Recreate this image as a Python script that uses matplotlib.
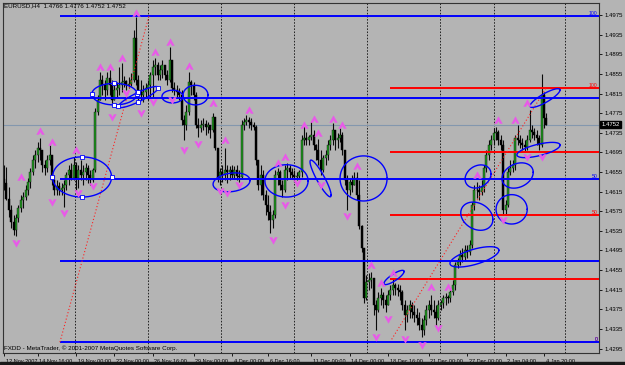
import numpy as np
import matplotlib
matplotlib.use("Agg")
import matplotlib.pyplot as plt
from matplotlib import font_manager, transforms
from matplotlib.path import Path
from matplotlib.patches import Rectangle

# EURUSD H4 candles, prices in pips above 1.4000 (open = previous close)
BASE = 1.4
PIP = 0.0001
first_open = 640
highs = [669, 665, 625, 588, 567, 569, 588, 608, 614, 629, 643, 663, 690, 700, 716, 724, 700, 679, 690, 710,
         684, 649, 639, 635, 633, 639, 655, 669, 673, 686, 675, 669, 679, 669, 673, 669, 659, 663, 786, 812,
         859, 853, 843, 859, 863, 843, 833, 839, 870, 878, 850, 843, 848, 858, 945, 971, 853, 843, 833, 837,
         843, 859, 884, 888, 880, 873, 884, 873, 863, 910, 880, 839, 833, 826, 822, 771, 792, 859, 843, 839,
         818, 765, 761, 765, 761, 757, 751, 775, 767, 704, 663, 669, 704, 669, 667, 669, 667, 669, 659, 761,
         765, 771, 767, 765, 757, 751, 679, 669, 659, 618, 608, 588, 577, 659, 663, 659, 639, 669, 673, 669,
         663, 659, 655, 659, 730, 747, 737, 730, 757, 740, 712, 722, 700, 690, 700, 720, 730, 755, 730, 734,
         745, 737, 700, 649, 643, 649, 655, 655, 639, 547, 500, 445, 449, 451, 438, 394, 410, 418, 410, 404,
         414, 424, 438, 428, 426, 424, 414, 394, 384, 394, 390, 384, 377, 369, 357, 363, 384, 394, 404, 394,
         384, 394, 394, 404, 408, 404, 414, 434, 471, 479, 496, 500, 506, 506, 516, 594, 629, 635, 629, 639,
         669, 700, 720, 730, 745, 747, 740, 730, 720, 598, 663, 679, 679, 730, 751, 730, 724, 720, 730, 781,
         751, 745, 740, 730, 855, 818, 776]
lows = [618, 598, 563, 541, 527, 525, 553, 574, 582, 598, 608, 622, 649, 663, 675, 679, 655, 649, 655, 669,
        629, 608, 608, 608, 608, 584, 618, 629, 639, 639, 618, 622, 639, 629, 639, 633, 629, 635, 655, 771,
        802, 812, 802, 812, 812, 792, 802, 806, 812, 818, 828, 822, 826, 830, 839, 833, 802, 802, 798, 806,
        802, 806, 808, 853, 843, 843, 847, 843, 833, 839, 818, 812, 806, 802, 751, 720, 740, 771, 812, 802,
        745, 726, 737, 740, 730, 734, 724, 737, 700, 635, 629, 635, 639, 633, 639, 643, 643, 639, 635, 643,
        740, 751, 745, 740, 740, 669, 618, 608, 598, 567, 557, 530, 541, 561, 629, 618, 604, 614, 639, 643,
        643, 635, 639, 643, 645, 710, 710, 710, 720, 700, 679, 669, 649, 655, 669, 679, 700, 710, 700, 704,
        716, 690, 629, 577, 608, 614, 629, 598, 539, 492, 388, 394, 414, 418, 363, 332, 369, 384, 377, 369,
        384, 394, 404, 404, 402, 394, 373, 332, 349, 357, 357, 349, 343, 332, 318, 322, 343, 357, 363, 357,
        343, 353, 373, 378, 384, 388, 390, 404, 414, 459, 465, 471, 475, 479, 486, 500, 577, 602, 598, 608,
        614, 655, 679, 700, 710, 720, 710, 700, 567, 567, 584, 649, 655, 659, 710, 704, 700, 696, 700, 716,
        724, 720, 710, 700, 706, 745, 752]
closes = [633, 600, 577, 553, 537, 561, 582, 598, 604, 618, 635, 655, 679, 690, 704, 700, 669, 663, 679, 690,
          639, 618, 627, 618, 622, 629, 649, 659, 643, 669, 643, 659, 649, 655, 663, 649, 639, 659, 777, 802,
          843, 833, 822, 847, 833, 802, 822, 826, 833, 839, 840, 833, 835, 843, 929, 843, 822, 812, 818, 826,
          833, 853, 869, 873, 853, 863, 873, 853, 843, 884, 826, 822, 818, 812, 761, 751, 777, 839, 833, 812,
          751, 745, 751, 753, 747, 751, 740, 767, 704, 643, 655, 649, 659, 655, 659, 649, 659, 647, 645, 751,
          757, 761, 757, 751, 747, 679, 629, 649, 608, 588, 574, 557, 567, 649, 655, 629, 618, 659, 663, 655,
          649, 645, 647, 655, 720, 724, 720, 726, 730, 710, 700, 679, 659, 684, 690, 710, 720, 740, 720, 724,
          730, 700, 639, 618, 635, 629, 643, 608, 545, 500, 398, 430, 434, 438, 384, 373, 398, 404, 394, 384,
          404, 414, 424, 418, 414, 410, 384, 363, 373, 384, 369, 363, 357, 343, 332, 353, 373, 384, 373, 369,
          357, 384, 388, 398, 400, 398, 410, 424, 465, 471, 486, 482, 496, 492, 506, 588, 618, 618, 614, 625,
          663, 690, 710, 720, 734, 737, 720, 710, 577, 588, 655, 663, 669, 724, 720, 714, 710, 706, 720, 740,
          737, 730, 724, 710, 812, 766, 752]

# Bill Williams fractals (bar, pips)
up_frac_bars = [7, 15, 20, 30, 40, 44, 49, 55, 63, 69, 77, 87, 92, 102, 114, 117, 125, 129, 131, 137, 141,
                147, 153, 157, 162, 178, 185, 197, 206, 213, 218]
up_frac_pips = [645, 739, 716, 700, 869, 869, 888, 979, 900, 920, 871, 796, 720, 782, 673, 686, 751, 763,
                735, 763, 751, 667, 465, 429, 449, 421, 421, 649, 761, 761, 796]
down_frac_bars = [5, 20, 25, 31, 37, 45, 51, 57, 62, 70, 75, 81, 90, 93, 98, 112, 117, 122, 132, 143, 155,
                  160, 167, 174, 181, 208, 218, 224]
down_frac_pips = [510, 594, 571, 612, 627, 767, 816, 775, 798, 802, 700, 712, 616, 612, 629, 516, 588, 633,
                  629, 565, 319, 355, 314, 302, 337, 557, 686, 686]

# Fibonacci objects: (bar, pips) of both anchors, levels in percent
blue_fib = (23.3, 308, 60.4, 973)
red_fib = (160.8, 308, 225.8, 826)
fib_levels = [0, 25, 50, 75, 100]
fib_texts = {0: "0", 50: "50", 100: "100"}

# ellipses: centre bar, centre pips, half width (bars), half height (pips), tilt (pips per bar)
ellipses = [(32.5, 645, 12.3, 41, 0), (46, 814, 9.4, 22, 0), (56, 808, 8.3, 10, 2.3), (70.2, 809, 4.4, 13, 0),
            (79.8, 812, 5.2, 20, 0), (94.8, 634, 7.7, 19, 0.5), (117.7, 637, 9.0, 33, 0),
            (131.9, 642, 4.4, 16, -7.7), (149.8, 642, 9.8, 46, 0), (162.5, 440, 4.2, 8, 2.9),
            (196, 482, 10.2, 16, 1.3), (197, 565, 6.7, 28, -1), (197.5, 646, 5.4, 23, 1),
            (211.5, 579, 6.5, 30, 0), (214, 648, 6.5, 25, 1), (222.7, 700, 9.0, 12, 1.1),
            (225.4, 806, 6.25, 10, 2.6)]
selected_ellipses = [0, 1, 2]

tick_bars = [0, 14, 30, 46, 62, 79, 95, 110, 128, 144, 160, 177, 193, 209, 225]
tick_labels = ["12 Nov 2007", "14 Nov 16:00", "19 Nov 00:00", "22 Nov 00:00", "26 Nov 16:00",
               "29 Nov 00:00", "4 Dec 00:00", "6 Dec 16:00", "11 Dec 00:00", "14 Dec 00:00",
               "18 Dec 16:00", "21 Dec 00:00", "27 Dec 00:00", "2 Jan 04:00", "4 Jan 20:00"]
price_ticks = [1.4295, 1.4335, 1.4375, 1.4415, 1.4455, 1.4495, 1.4535, 1.4575, 1.4615, 1.4655,
               1.4695, 1.4735, 1.4775, 1.4815, 1.4855, 1.4895, 1.4935, 1.4975]
grid_bars = [29.6, 60, 90.4, 120.8, 151.3, 181.7, 204.2, 233.8]
last_price = 1.4752
header = "EURUSD,H4  1.4766 1.4776 1.4752 1.4752"
footer = "FXDD - MetaTrader, \u00a9 2001-2007 MetaQuotes Software Corp."

BG = "#B4B4B4"
GREEN = "#1E9A1E"
MAGENTA = "#E85AE8"

names = {f.name for f in font_manager.fontManager.ttflist}
small_font = "Liberation Sans Narrow" if "Liberation Sans Narrow" in names else "Liberation Sans"
narrow = small_font.endswith("Narrow")
plt.rcParams["font.family"] = [small_font, "DejaVu Sans"]
fs = 4.9 if narrow else 4.3
fs_x = 4.7 if narrow else 3.95

def px(p):
    return BASE + np.asarray(p, dtype=float) * PIP

fig = plt.figure(figsize=(6.25, 3.65), dpi=100)
fig.patch.set_facecolor(BG)
ax = fig.add_axes([3 / 625, 12 / 365, 596 / 625, 350 / 365])
ax.set_facecolor(BG)
xmax = 247.9
ax.set_xlim(-0.42, xmax)
ax.set_ylim(1.42859, 1.49999)

# grid
for g in grid_bars:
    ax.axvline(g, color="#222222", lw=0.7, ls=(0, (1.6, 1.6)), zorder=1)

# bid line
ax.axhline(last_price, color="#8397AE", lw=0.8, zorder=1.5)

# candles
n = len(closes)
x = np.arange(n)
c = px(closes)
o = px([first_open] + closes[:-1])
h = np.maximum(px(highs), np.maximum(o, c))
l = np.minimum(px(lows), np.minimum(o, c))
ax.vlines(x, l, h, color="#0A0A0A", lw=0.8, zorder=2)
up = c >= o
body = np.maximum(np.abs(c - o), 0.00006)
ax.bar(x[up], body[up], bottom=o[up], width=0.8, color=GREEN, edgecolor="#111111", lw=0.3, zorder=2.5)
ax.bar(x[~up], body[~up], bottom=c[~up], width=0.8, color="#000000", edgecolor="#000000", lw=0.3, zorder=2.5)

# fibonacci objects
def draw_fib(fib, color, z):
    b0, p0, b1, p1 = fib
    for lev in fib_levels:
        lv = px(p0 + (p1 - p0) * lev / 100)
        ax.hlines(lv, b0, xmax, color=color, lw=1.4, zorder=z)
        if lev in fib_texts:
            ax.text(0.997, lv + 0.0001, fib_texts[lev], color=color, fontsize=fs - 0.6,
                    transform=transforms.blended_transform_factory(ax.transAxes, ax.transData),
                    ha="right", va="bottom", zorder=z)
    ax.plot([b0, b1], [px(p0), px(p1)], color="#FF2020", lw=0.8, ls=(0, (1, 2)), zorder=z)

draw_fib(red_fib, "#FF0000", 3)
draw_fib(blue_fib, "#0000FF", 3.2)

# ellipses
t = np.linspace(0, 2 * np.pi, 200)
for k, (xc, pc, a, b, tilt) in enumerate(ellipses):
    ex = xc + a * np.cos(t)
    ey = pc + b * np.sin(t) + tilt * a * np.cos(t)
    ax.plot(ex, px(ey), color="#0000FF", lw=1.0, zorder=4)
    if k in selected_ellipses:
        hx = xc + a * np.array([1, 0, -1, 0])
        hy = pc + b * np.array([0, 1, 0, -1]) + tilt * a * np.array([1, 0, -1, 0])
        ax.plot(hx, px(hy), ls="none", marker="s", ms=2.6, mfc="white", mec="#0000FF", mew=0.6, zorder=4.5)

# fractal arrows
up_marker = Path([(0, 0.9), (0.9, -0.7), (0.3, -0.7), (0, -0.15), (-0.3, -0.7), (-0.9, -0.7), (0, 0.9)])
down_marker = Path([(0, -0.9), (0.9, 0.7), (0.3, 0.7), (0, 0.15), (-0.3, 0.7), (-0.9, 0.7), (0, -0.9)])
ax.plot(up_frac_bars, px(up_frac_pips), ls="none", marker=up_marker, ms=6, color=MAGENTA, mew=0, zorder=5)
ax.plot(down_frac_bars, px(down_frac_pips), ls="none", marker=down_marker, ms=6, color=MAGENTA, mew=0, zorder=5)

# axes
for s in ax.spines.values():
    s.set_color("#333333")
    s.set_linewidth(0.8)
ax.yaxis.tick_right()
ax.set_yticks(price_ticks)
ax.set_yticklabels([f"{v:.4f}" for v in price_ticks])
ax.tick_params(axis="y", direction="out", length=2.5, width=0.6, pad=1.5, labelsize=fs, colors="black")
ax.set_xticks(tick_bars)
ax.set_xticklabels(tick_labels)
ax.tick_params(axis="x", direction="out", length=2.5, width=0.6, pad=1.5, labelsize=fs_x, colors="black")
shift = transforms.ScaledTranslation(1.5 / 100, 0, fig.dpi_scale_trans)
for lbl in ax.get_xticklabels():
    lbl.set_horizontalalignment("left")
    lbl.set_transform(lbl.get_transform() + shift)

ax.text(1.004, last_price, f"{last_price:.4f}", transform=transforms.blended_transform_factory(ax.transAxes, ax.transData),
        fontsize=fs, color="white", ha="left", va="center", zorder=6, clip_on=False,
        bbox=dict(boxstyle="square,pad=0.15", fc="black", ec="black"))

fig.text(4 / 625, 1 - 6 / 365, header, fontsize=fs + 0.2, color="black", va="center", ha="left")
fig.text(4 / 625, 1 - 348 / 365, footer, fontsize=fs + 0.2, color="black", va="center", ha="left")
fig.patches.append(Rectangle((0, 0), 1, 3 / 365, transform=fig.transFigure, color="#1A1A1A", zorder=0))

fig.savefig("out.png", dpi=100, facecolor=BG)
